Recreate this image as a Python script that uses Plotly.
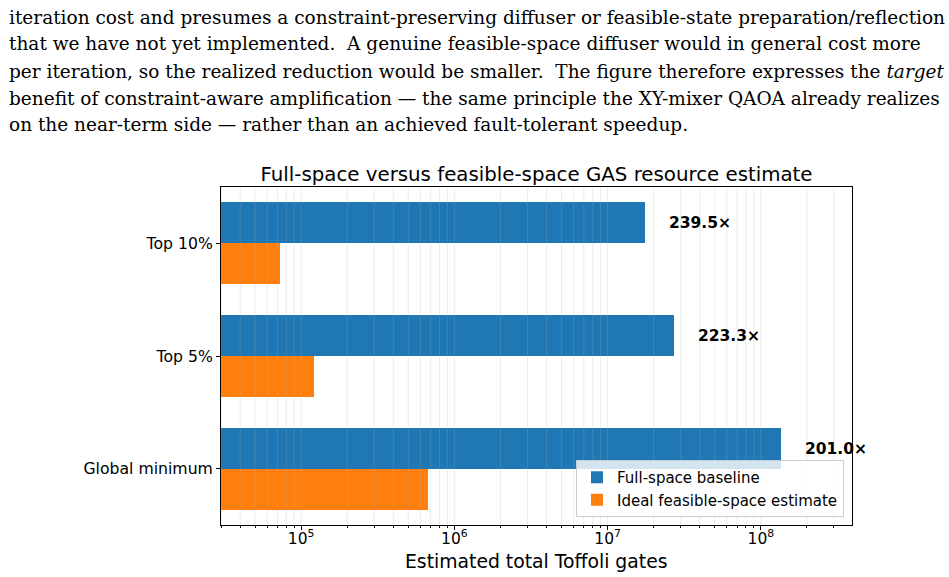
import math
import plotly.graph_objects as go

# ---- data ----
categories = ["Global minimum", "Top 5%", "Top 10%"]
full_space = [1.35e8, 2.70e7, 1.75e7]
feasible_space = [6.72e5, 1.21e5, 7.31e4]
reductions = [201.0, 223.3, 239.5]

paragraph = [
    "iteration cost and presumes a constraint-preserving diffuser or feasible-state preparation/reflection",
    "that we have not yet implemented.  A genuine feasible-space diffuser would in general cost more",
    "per iteration, so the realized reduction would be smaller.  The figure therefore expresses the <i>target</i>",
    "benefit of constraint-aware amplification \u2014 the same principle the XY-mixer QAOA already realizes",
    "on the near-term side \u2014 rather than an achieved fault-tolerant speedup.",
]

BLUE = "#1f77b4"
ORANGE = "#ff7f0e"
FONT = "DejaVu Sans"
BAR_H = 0.36
pos = list(range(len(categories)))
YR = [-0.496, 2.496]
XR = [4.477, 8.595]

fig = go.Figure()
fig.add_trace(go.Bar(
    y=pos, x=full_space, orientation="h", width=BAR_H, offset=0,
    marker=dict(color=BLUE, line=dict(width=0)), name="Full-space baseline",
))
fig.add_trace(go.Bar(
    y=pos, x=feasible_space, orientation="h", width=BAR_H, offset=-BAR_H,
    marker=dict(color=ORANGE, line=dict(width=0)), name="Ideal feasible-space estimate",
))

# grid lines drawn above bars (as matplotlib does here)
gx, gy = [], []
for k in range(4, 9):
    for d in range(1, 10):
        v = d * 10 ** k
        if XR[0] <= math.log10(v) <= XR[1]:
            gx += [v, v, None]
            gy += [YR[0], YR[1], None]
fig.add_trace(go.Scatter(
    x=gx, y=gy, mode="lines", line=dict(color="rgba(176,176,176,0.3)", width=0.8),
    showlegend=False, hoverinfo="skip",
))

for p, v, r in zip(pos, full_space, reductions):
    fig.add_annotation(
        x=math.log10(v * 1.4), y=p + BAR_H / 2, xref="x", yref="y",
        text=f"<b>{r:.1f}\u00d7</b>", showarrow=False, xanchor="left", yanchor="middle",
        font=dict(family=FONT, size=15.5, color="black"),
    )

# paragraph text above the figure
L, R, T, B = 221, 97, 187, 52
W, H = 949, 577
pw, ph = W - L - R, H - T - B
line_y = [17, 44, 71, 98, 125]
for txt, yy in zip(paragraph, line_y):
    fig.add_annotation(
        x=(7 - L) / pw, y=(H - B - yy) / ph, xref="paper", yref="paper",
        text=txt, showarrow=False, xanchor="left", yanchor="middle",
        font=dict(family="DejaVu Serif", size=18.5, color="black"),
    )

# x-axis title as annotation (keeps margins fixed)
fig.add_annotation(
    x=0.5, y=(H - B - 561) / ph, xref="paper", yref="paper",
    text="Estimated total Toffoli gates", showarrow=False, xanchor="center", yanchor="middle",
    font=dict(family=FONT, size=18.8, color="black"),
)

major = [1e5, 1e6, 1e7, 1e8]
minor = [d * 10 ** k for k in range(4, 9) for d in range(2, 10)
         if XR[0] <= math.log10(d * 10 ** k) <= XR[1]]

fig.update_layout(
    width=W, height=H, plot_bgcolor="white", paper_bgcolor="white",
    margin=dict(l=L, r=R, t=T, b=B, autoexpand=False),
    barmode="overlay", bargap=0,
    title=dict(text="Full-space versus feasible-space GAS resource estimate",
               x=(L + pw / 2) / W, xanchor="center", y=1 - 174 / H, yanchor="middle",
               font=dict(family=FONT, size=19.8, color="black")),
    font=dict(family=FONT, color="black"),
    legend=dict(x=(844 - L) / pw, y=(H - B - 517) / ph, xanchor="right", yanchor="bottom",
                bgcolor="rgba(255,255,255,0.8)", bordercolor="#cccccc", borderwidth=1,
                font=dict(family=FONT, size=15), itemwidth=30, tracegroupgap=0),
    xaxis=dict(type="log", range=XR, showgrid=False, zeroline=False, automargin=False,
               showline=True, linecolor="black", linewidth=1, mirror=True,
               tickvals=major, ticktext=[f"10<sup>{int(math.log10(m))}</sup>" for m in major],
               ticks="outside", ticklen=4, tickcolor="black", ticklabelstandoff=-5,
               tickfont=dict(family=FONT, size=15.5),
               minor=dict(tickvals=minor, ticks="outside", ticklen=2, tickcolor="black", showgrid=False)),
    yaxis=dict(range=YR, showgrid=False, zeroline=False, automargin=False,
               showline=True, linecolor="black", linewidth=1, mirror=True,
               tickvals=pos, ticktext=categories, ticks="outside", ticklen=4, tickcolor="black",
               tickfont=dict(family=FONT, size=15.7)),
)

fig.write_html("out.html")
